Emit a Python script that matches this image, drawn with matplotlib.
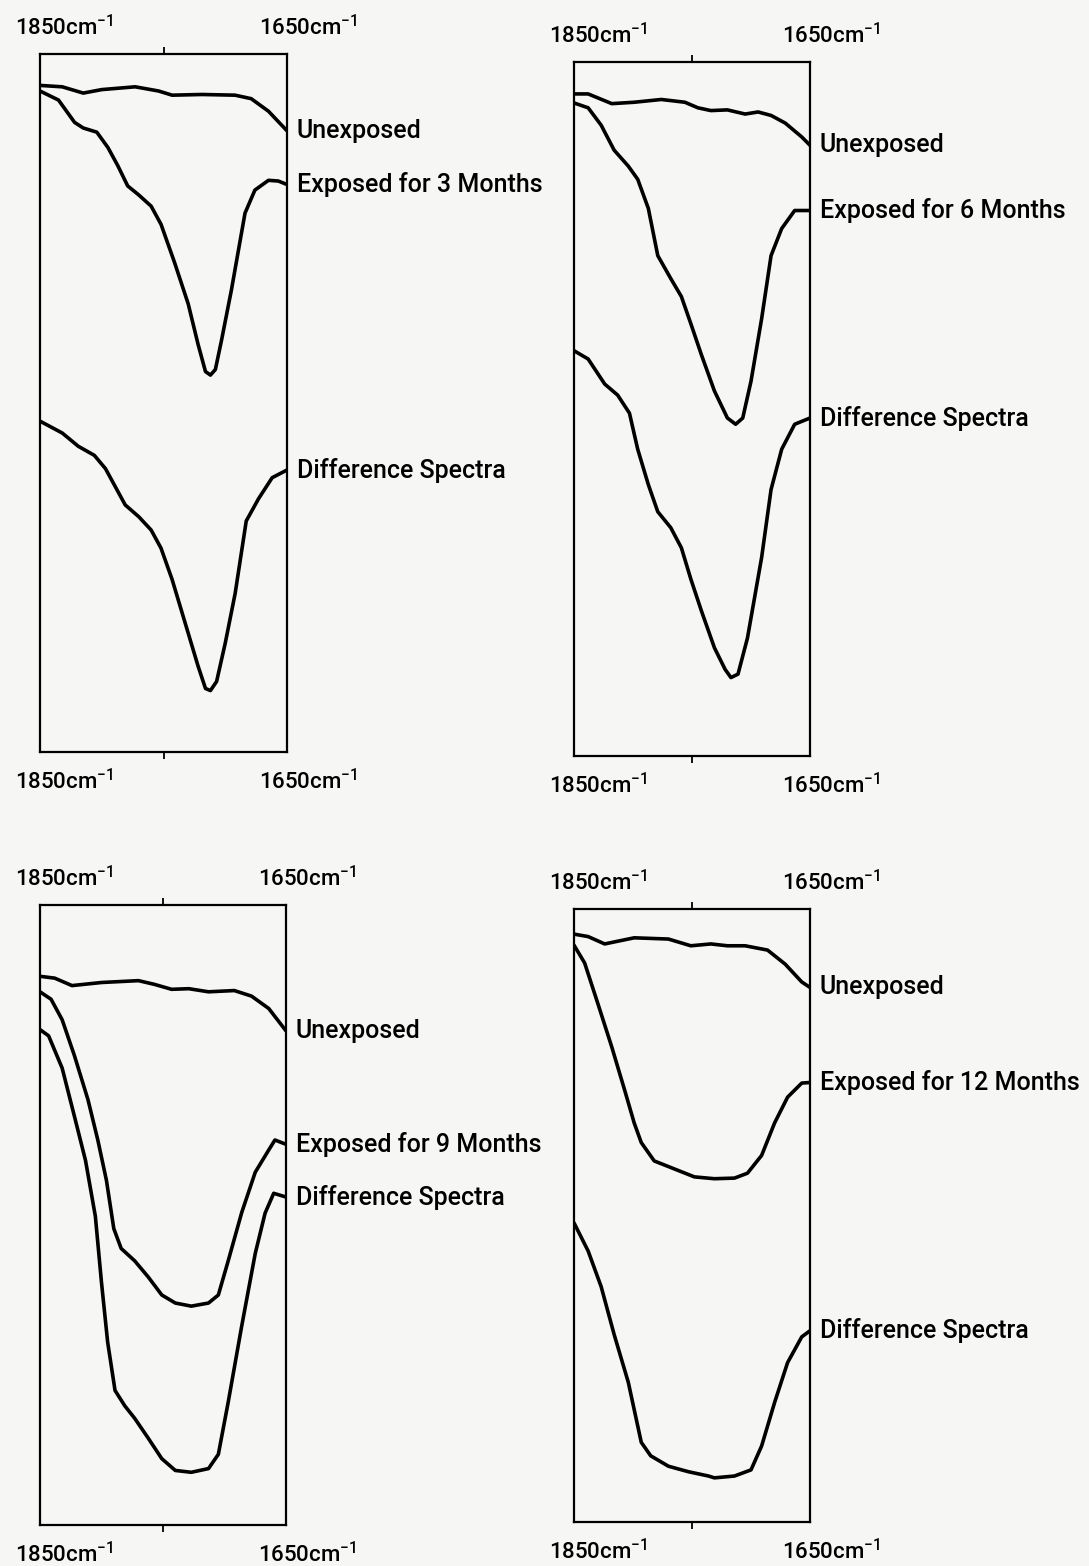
import numpy as np
import matplotlib.pyplot as plt

plt.rcParams['font.family'] = ['Roboto', 'DejaVu Sans']
plt.rcParams['font.weight'] = 'medium'
plt.rcParams['mathtext.fontset'] = 'custom'
plt.rcParams['mathtext.rm'] = 'Roboto:medium'
plt.rcParams['mathtext.it'] = 'Roboto:medium'

# IR spectra (arbitrary transmittance scale, 0-100 of the frame height)
# 3 months
wn_u3 = [1850, 1832, 1815, 1800, 1773, 1754, 1743, 1719, 1692, 1679, 1665, 1650]
tr_u3 = [95.5, 95.3, 94.4, 94.9, 95.3, 94.7, 94.1, 94.2, 94.1, 93.6, 91.8, 89.0]
wn_e3 = [1850, 1835, 1822, 1815, 1804, 1795, 1787, 1779, 1770, 1760, 1752,
         1741, 1730, 1722, 1716, 1712, 1708, 1703, 1695, 1684, 1676, 1665,
         1657, 1650]
tr_e3 = [94.7, 93.4, 90.2, 89.4, 88.8, 86.6, 84.0, 81.1, 79.8, 78.2, 75.6,
         70.1, 64.2, 58.4, 54.5, 54.0, 54.8, 59.0, 66.2, 77.2, 80.5, 81.9,
         81.8, 81.3]
wn_d3 = [1850, 1832, 1819, 1806, 1797, 1789, 1781, 1770, 1760, 1752, 1743,
         1733, 1722, 1716, 1712, 1707, 1700, 1692, 1683, 1673, 1662, 1650]
tr_d3 = [47.4, 45.7, 43.8, 42.5, 40.6, 38.0, 35.4, 33.7, 31.8, 29.2, 24.7,
         18.8, 12.3, 9.1, 8.8, 10.1, 15.6, 22.7, 33.1, 36.3, 39.3, 40.4]

# 6 months
wn_u6 = [1850, 1838, 1818, 1799, 1776, 1756, 1745, 1734, 1720, 1705, 1694,
         1683, 1671, 1657, 1650]
tr_u6 = [95.4, 95.4, 94.0, 94.2, 94.6, 94.2, 93.4, 93.0, 93.1, 92.5, 92.8,
         92.3, 91.2, 89.2, 88.0]
wn_e6 = [1850, 1838, 1827, 1816, 1804, 1796, 1787, 1779, 1768, 1759, 1751,
         1742, 1731, 1720, 1713, 1707, 1700, 1691, 1683, 1674, 1663, 1650]
tr_e6 = [94.1, 93.4, 90.9, 87.3, 85.0, 83.1, 78.9, 72.1, 68.8, 66.2, 62.3,
         57.8, 52.6, 48.7, 47.8, 48.7, 54.0, 63.0, 72.1, 76.0, 78.6, 78.6]
wn_d6 = [1850, 1838, 1824, 1813, 1803, 1796, 1787, 1779, 1768, 1759, 1751,
         1742, 1731, 1722, 1717, 1711, 1703, 1691, 1683, 1674, 1663, 1650]
tr_d6 = [58.4, 57.2, 53.6, 52.0, 49.4, 44.2, 39.1, 35.2, 32.9, 30.0, 25.5,
         20.9, 15.6, 12.5, 11.3, 11.8, 17.0, 28.6, 38.4, 44.2, 47.8, 48.7]

# 9 months
wn_u9 = [1850, 1838, 1824, 1800, 1770, 1757, 1743, 1729, 1713, 1692, 1678,
         1664, 1650]
tr_u9 = [88.5, 88.2, 87.0, 87.5, 87.8, 87.2, 86.4, 86.5, 86.0, 86.2, 85.3,
         83.3, 79.7]
wn_e9 = [1850, 1841, 1832, 1822, 1811, 1803, 1796, 1790, 1784, 1773, 1762,
         1751, 1740, 1727, 1713, 1705, 1697, 1686, 1675, 1664, 1659, 1650]
tr_e9 = [86.0, 84.8, 81.5, 75.7, 68.6, 62.1, 55.6, 47.8, 44.6, 42.6, 40.0,
         37.1, 35.8, 35.3, 35.8, 37.1, 42.6, 50.4, 56.9, 60.5, 62.1, 61.4]
wn_d9 = [1850, 1843, 1832, 1822, 1813, 1805, 1800, 1795, 1789, 1781, 1773,
         1762, 1751, 1740, 1727, 1713, 1705, 1697, 1686, 1675, 1667, 1660, 1650]
tr_d9 = [79.9, 78.9, 73.7, 65.9, 58.8, 49.8, 39.1, 29.5, 21.7, 19.2, 17.2,
         14.0, 10.7, 8.8, 8.5, 9.1, 11.4, 19.8, 32.1, 43.8, 50.3, 53.5, 52.9]

# 12 months
wn_u12 = [1850, 1838, 1824, 1799, 1770, 1751, 1734, 1720, 1705, 1686, 1671,
          1657, 1650]
tr_u12 = [95.9, 95.5, 94.3, 95.3, 95.1, 94.0, 94.3, 94.0, 94.0, 93.3, 91.0,
          88.1, 87.2]
wn_e12 = [1850, 1841, 1830, 1818, 1807, 1799, 1793, 1782, 1765, 1748, 1731,
          1714, 1703, 1691, 1680, 1669, 1657, 1650]
tr_e12 = [94.1, 91.2, 84.7, 77.5, 70.4, 65.1, 61.9, 58.9, 57.6, 56.3, 56.0,
          56.1, 56.9, 59.8, 65.1, 69.3, 71.6, 71.7]
wn_d12 = [1850, 1838, 1827, 1816, 1804, 1793, 1785, 1770, 1753, 1736, 1731,
          1714, 1700, 1691, 1680, 1669, 1657, 1650]
tr_d12 = [48.8, 44.2, 38.4, 30.6, 22.8, 13.0, 10.8, 9.1, 8.2, 7.5, 7.2,
          7.5, 8.5, 12.4, 19.5, 26.0, 30.2, 31.2]

months = [3, 6, 9, 12]
curves = [
    [(wn_u3, tr_u3), (wn_e3, tr_e3), (wn_d3, tr_d3)],
    [(wn_u6, tr_u6), (wn_e6, tr_e6), (wn_d6, tr_d6)],
    [(wn_u9, tr_u9), (wn_e9, tr_e9), (wn_d9, tr_d9)],
    [(wn_u12, tr_u12), (wn_e12, tr_e12), (wn_d12, tr_d12)],
]

W, H = 1089, 1566
# frame boxes in pixels: left, top, right, bottom
boxes = [(40, 54, 287, 752), (574, 62, 810, 756),
         (40, 905, 286, 1525), (574, 909, 810, 1522)]

bg = '#f6f6f4'
fig = plt.figure(figsize=(W / 100, H / 100), dpi=100, facecolor=bg)

for i, (l, t, r, b) in enumerate(boxes):
    ax = fig.add_axes([l / W, 1 - b / H, (r - l) / W, (b - t) / H])
    ax.set_facecolor(bg)
    names = ['Unexposed', f'Exposed for {months[i]} Months', 'Difference Spectra']
    for (wn, tr), name in zip(curves[i], names):
        ax.plot(wn, tr, color='black', lw=2.6, solid_joinstyle='round',
                solid_capstyle='round')
        ax.annotate(name, xy=(1650, tr[-1]), xytext=(7, 0),
                    textcoords='offset points', va='center', ha='left',
                    fontsize=18, annotation_clip=False)
    ax.set_xlim(1850, 1650)
    ax.set_ylim(0, 100)
    ax.set_xticks([1750])
    ax.set_yticks([])
    ax.tick_params(axis='x', top=True, bottom=True, labelbottom=False,
                   direction='out', length=5, width=1.3)
    for s in ax.spines.values():
        s.set_linewidth(1.6)
    # wavenumber limits above and below the frame
    for yy, dy in [(1, 19), (0, -21)]:
        ax.annotate('1850cm$^{-1}$', xy=(0, yy), xycoords='axes fraction',
                    xytext=(-18, dy), textcoords='offset points',
                    ha='left', va='center', fontsize=16)
        ax.annotate('1650cm$^{-1}$', xy=(1, yy), xycoords='axes fraction',
                    xytext=(-20, dy), textcoords='offset points',
                    ha='left', va='center', fontsize=16)

fig.savefig('out.png', dpi=100, facecolor=bg)
